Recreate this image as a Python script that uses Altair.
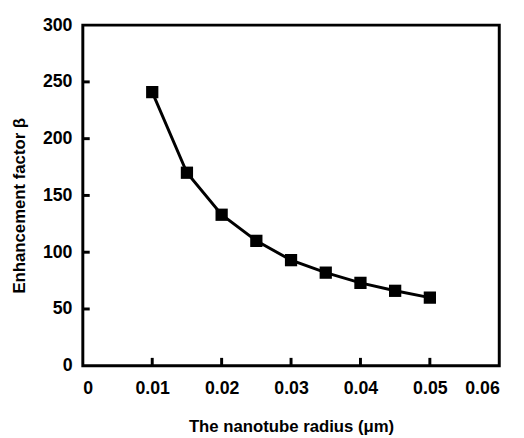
import altair as alt
import pandas as pd

radius = [0.01, 0.015, 0.02, 0.025, 0.03, 0.035, 0.04, 0.045, 0.05]
beta = [241, 170, 133, 110, 93, 82, 73, 66, 60]
x_tick_values = [0, 0.01, 0.02, 0.03, 0.04, 0.05, 0.06]
y_tick_values = [0, 50, 100, 150, 200, 250, 300]
x_inner_ticks = [0.01, 0.02, 0.03, 0.04, 0.05]
y_inner_ticks = [50, 100, 150, 200, 250]

W, H = 423, 346
FONT = "Liberation Sans"

df = pd.DataFrame({"r": radius, "b": beta})
xt = pd.DataFrame({"v": x_inner_ticks})
yt = pd.DataFrame({"v": y_inner_ticks})

xscale = alt.Scale(domain=[0, 0.06], nice=False, zero=True)
yscale = alt.Scale(domain=[0, 300], nice=False)

xaxis = alt.Axis(
    values=x_tick_values, title="The nanotube radius (μm)", grid=False, domain=False,
    ticks=False, labelPadding=14, titlePadding=22,
    labelExpr="datum.value == 0 ? '0' : format(datum.value, '.2f')",
)
yaxis = alt.Axis(
    values=y_tick_values, title="Enhancement factor β", grid=False, domain=False,
    ticks=False, labelPadding=11, titlePadding=14, format="d", titleY=183,
)

base = alt.Chart(df)
line = base.mark_line(color="black", strokeWidth=3).encode(
    x=alt.X("r:Q", scale=xscale, axis=xaxis),
    y=alt.Y("b:Q", scale=yscale, axis=yaxis),
)
pts = base.mark_square(color="black", size=155, opacity=1).encode(
    x=alt.X("r:Q", scale=xscale),
    y=alt.Y("b:Q", scale=yscale),
)
xticks = alt.Chart(xt).mark_rule(color="black", strokeWidth=3).encode(
    x=alt.X("v:Q", scale=xscale), y=alt.value(H), y2=alt.value(H - 8)
)
yticks = alt.Chart(yt).mark_rule(color="black", strokeWidth=3).encode(
    y=alt.Y("v:Q", scale=yscale), x=alt.value(0), x2=alt.value(7)
)

chart = alt.layer(line, pts, xticks, yticks).properties(
    width=W, height=H,
    autosize=alt.AutoSizeParams(type="none"),
    padding={"left": 76, "top": 14, "right": 17, "bottom": 70},
).configure_view(
    stroke="black", strokeWidth=3
).configure_axis(
    labelFont=FONT, titleFont=FONT, labelFontSize=18, titleFontSize=17,
    labelFontWeight="bold", titleFontWeight="bold", labelColor="black", titleColor="black",
)

chart.save("out.html", embed_options={"renderer": "svg", "actions": False})
